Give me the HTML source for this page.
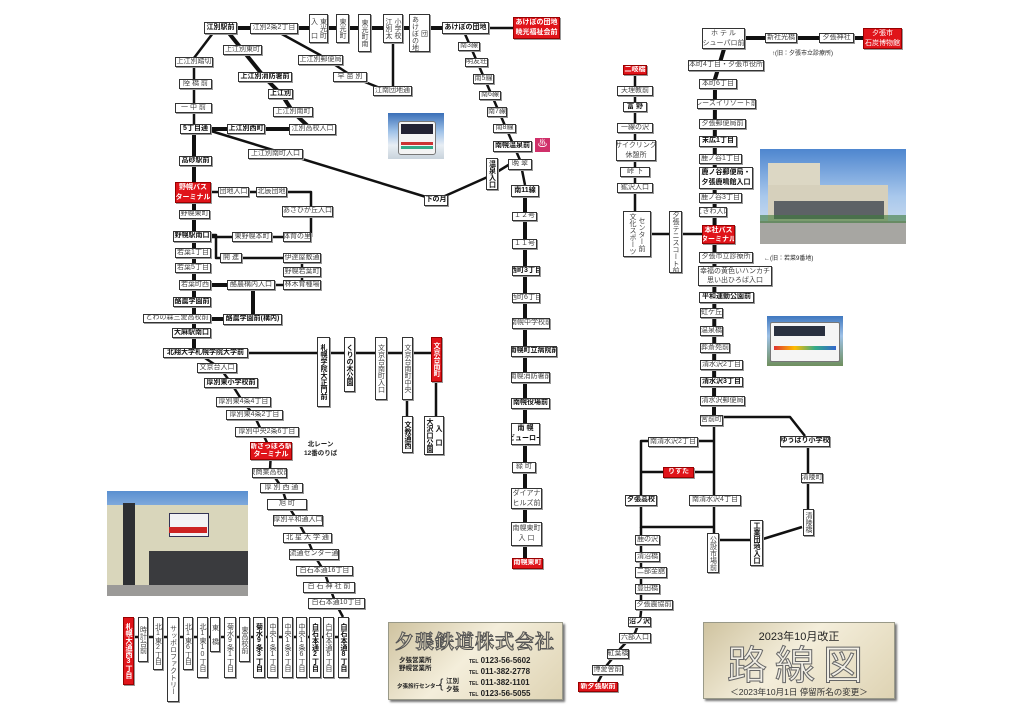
<!DOCTYPE html>
<html><head><meta charset="utf-8"><style>
html,body{margin:0;padding:0;background:#fff}
#c{position:relative;width:1024px;height:723px;overflow:hidden;font-family:"Liberation Sans","Noto Sans CJK JP",sans-serif;color:#222}
.b{position:absolute;box-sizing:border-box;border:1px solid #333;background:#fff;font-size:7px;display:flex;align-items:center;justify-content:center;white-space:nowrap;line-height:8.5px;text-align:center;box-shadow:1px 1px 0 #999;color:#444;overflow:hidden}
.k{font-weight:bold;color:#111}
.r{background:#e0141a;color:#fff;border-color:#900;font-weight:bold}
.v{writing-mode:vertical-rl;text-orientation:upright;line-height:9px;letter-spacing:0}
svg{position:absolute;left:0;top:0}
.t{position:absolute;font-size:7px;white-space:nowrap}
.panel{position:absolute;box-sizing:border-box;background:linear-gradient(135deg,#cfc3a0,#f4eedb 45%,#ded3b3);border:1px solid #998;box-shadow:2px 2px 2px #777}
</style></head><body><div id="c">
<svg width="1024" height="723" fill="none" stroke="#111" stroke-linejoin="round">
<g stroke-width="4">
<line x1="220" y1="28" x2="465" y2="28"/>
<line x1="194" y1="124" x2="194" y2="348"/>
<line x1="211" y1="129" x2="290" y2="129"/>
<polyline points="228,32 265,78 282,95 293,112 312,130"/>
<line x1="525" y1="185" x2="525" y2="558"/>
<line x1="211" y1="285" x2="227" y2="285"/>
<line x1="253" y1="290" x2="253" y2="314"/>
<line x1="211" y1="319" x2="223" y2="319"/>
<line x1="745" y1="38" x2="863" y2="38"/>
<polyline points="724,49 715,79 714,415"/>
</g>
<g stroke-width="2.5">
<line x1="465" y1="28" x2="513" y2="28"/>
<line x1="213" y1="33" x2="194" y2="58"/>
<line x1="194" y1="58" x2="194" y2="124"/>
<polyline points="280,33 320,55 355,78 385,90"/>
<line x1="393" y1="42" x2="393" y2="86"/>
<line x1="211" y1="131" x2="436" y2="200"/>
<polyline points="436,200 492,175 510,164"/>
<polyline points="465,34 520,160 525,185"/>
<polyline points="211,192 311,192 311,237"/>
<line x1="211" y1="237" x2="311" y2="237"/>
<polyline points="211,235 216,235 216,258 302,258 302,285 275,285"/>
<line x1="248" y1="353" x2="431" y2="353"/>
<line x1="407" y1="400" x2="407" y2="416"/>
<line x1="436" y1="382" x2="436" y2="416"/>
<polyline points="205,358 220,368 231,383 243,402 254,415 262,432 271,451 270,470 282,488 287,504 297,520 307,538 314,555 324,571 330,588 336,604 343,617"/>
<line x1="128" y1="637" x2="344" y2="637"/>
<line x1="635" y1="70" x2="635" y2="211"/>
<line x1="651" y1="234" x2="702" y2="234"/>
<polyline points="714,415 714,533"/>
<polyline points="723,417 790,417 805,436"/>
<line x1="808" y1="447" x2="808" y2="509"/>
<polyline points="802,527 763,539"/>
<line x1="719" y1="540" x2="750" y2="540"/>
<polyline points="714,441 641,441 641,527 714,527"/>
<line x1="641" y1="472" x2="714" y2="472"/>
<polyline points="641,527 641,612 640,620 635,633 620,649 607,665 598,682"/>
</g>
</svg>
<!-- left top -->
<div class="b k" style="left:204px;top:22px;width:33px;height:12px">江別駅前</div>
<div class="b" style="left:250px;top:23px;width:48px;height:11px">江別2条2丁目</div>
<div class="b v" style="left:309px;top:14px;width:19px;height:29px">東光町<br>入 口</div>
<div class="b v" style="left:336px;top:14px;width:13px;height:29px">東光町</div>
<div class="b v" style="left:358px;top:14px;width:13px;height:38px">東光町南</div>
<div class="b v" style="left:383px;top:14px;width:20px;height:29px">小学校<br>江別太</div>
<div class="b v" style="left:409px;top:14px;width:21px;height:38px">団<br>あけぼの地</div>
<div class="b k" style="left:442px;top:22px;width:47px;height:12px">あけぼの団地</div>
<div class="b r" style="left:513px;top:17px;width:47px;height:22px;line-height:10px">あけぼの団地<br>暁光福祉会前</div>
<div class="b" style="left:223px;top:45px;width:39px;height:10px">上江別東町</div>
<div class="b" style="left:298px;top:55px;width:45px;height:10px">上江別郵便局</div>
<div class="b" style="left:175px;top:57px;width:38px;height:10px">上江別踏切</div>
<div class="b k" style="left:238px;top:72px;width:54px;height:10px">上江別消防署前</div>
<div class="b" style="left:333px;top:72px;width:34px;height:10px">早 苗 別</div>
<div class="b" style="left:373px;top:86px;width:39px;height:10px">江南団地通</div>
<div class="b" style="left:179px;top:79px;width:33px;height:10px">陸 橋 前</div>
<div class="b k" style="left:268px;top:89px;width:25px;height:10px">上江別</div>
<div class="b" style="left:175px;top:103px;width:37px;height:10px">一 中 前</div>
<div class="b" style="left:273px;top:107px;width:40px;height:10px">上江別南町</div>
<div class="b k" style="left:180px;top:124px;width:31px;height:10px">5丁目通</div>
<div class="b k" style="left:227px;top:124px;width:38px;height:10px">上江別西町</div>
<div class="b" style="left:289px;top:124px;width:47px;height:11px">江別高校入口</div>
<div class="b" style="left:248px;top:149px;width:55px;height:10px">上江別南町入口</div>
<div style="position:absolute;left:388px;top:113px;width:56px;height:46px;background:linear-gradient(#3a6fb8,#9fc2e8 40%,#e8eef4 70%,#c9d3dc)"><div style="position:absolute;left:10px;top:8px;width:36px;height:32px;background:#f4f4f4;border-radius:3px;border:1px solid #777"><div style="height:10px;background:#223;margin:2px"></div><div style="height:3px;background:#c33;margin:8px 2px 0"></div><div style="height:3px;background:#3a8;margin:1px 2px"></div></div></div>
<div class="b k" style="left:179px;top:156px;width:33px;height:10px">高砂駅前</div>
<div class="b r" style="left:175px;top:182px;width:36px;height:21px;line-height:10px">野幌バス<br>ターミナル</div>
<div class="b" style="left:218px;top:187px;width:31px;height:10px">団地入口</div>
<div class="b" style="left:256px;top:187px;width:31px;height:10px">北辰団地</div>
<div class="b" style="left:282px;top:206px;width:51px;height:11px">あさひが丘入口</div>
<div class="b k" style="left:424px;top:195px;width:24px;height:11px">下の月</div>
<div class="b v k" style="left:486px;top:158px;width:12px;height:32px">温泉入口</div>
<div class="b" style="left:508px;top:159px;width:24px;height:11px">晩 翠</div>
<div class="b k" style="left:511px;top:185px;width:28px;height:12px">南11線</div>
<div class="b" style="left:458px;top:42px;width:22px;height:9px">南3線</div>
<div class="b" style="left:465px;top:58px;width:23px;height:9px">明友荘</div>
<div class="b" style="left:473px;top:74px;width:21px;height:10px">南5線</div>
<div class="b" style="left:479px;top:91px;width:22px;height:9px">南6線</div>
<div class="b" style="left:487px;top:107px;width:20px;height:10px">南7線</div>
<div class="b" style="left:493px;top:124px;width:23px;height:9px">南8線</div>
<div class="b k" style="left:493px;top:141px;width:39px;height:11px">南幌温泉前</div>
<div style="position:absolute;left:535px;top:138px;width:15px;height:14px;background:#d0306a;color:#fff;font-size:10px;text-align:center;line-height:14px">♨</div>
<!-- left middle -->
<div class="b" style="left:179px;top:210px;width:31px;height:9px">野幌東町</div>
<div class="b k" style="left:173px;top:231px;width:38px;height:11px">野幌駅南口</div>
<div class="b" style="left:232px;top:232px;width:40px;height:10px">東野幌本町</div>
<div class="b" style="left:283px;top:232px;width:28px;height:10px">体育の里</div>
<div class="b" style="left:175px;top:248px;width:36px;height:10px">若葉1丁目</div>
<div class="b" style="left:220px;top:253px;width:22px;height:10px">開 進</div>
<div class="b" style="left:283px;top:253px;width:38px;height:10px">伊達屋敷通</div>
<div class="b" style="left:175px;top:263px;width:36px;height:10px">若葉5丁目</div>
<div class="b" style="left:283px;top:267px;width:38px;height:10px">野幌若葉町</div>
<div class="b" style="left:179px;top:280px;width:32px;height:10px">若葉町西</div>
<div class="b" style="left:227px;top:280px;width:48px;height:10px">酪農構内入口</div>
<div class="b" style="left:283px;top:280px;width:38px;height:10px">林木育種場</div>
<div class="b k" style="left:173px;top:297px;width:38px;height:10px">酪農学園前</div>
<div class="b" style="left:143px;top:314px;width:68px;height:9px">とわの森三愛高校前</div>
<div class="b k" style="left:223px;top:314px;width:59px;height:11px">酪農学園前(構内)</div>
<div class="b k" style="left:172px;top:328px;width:39px;height:10px">大麻駅南口</div>
<div class="b k" style="left:163px;top:348px;width:85px;height:10px">北翔大学札幌学院大学前</div>
<div class="b v k" style="left:317px;top:337px;width:13px;height:70px">札幌学院大正門前</div>
<div class="b v k" style="left:344px;top:337px;width:11px;height:55px">くりの木公園</div>
<div class="b v" style="left:375px;top:337px;width:12px;height:63px">文京台南町入口</div>
<div class="b v" style="left:402px;top:337px;width:11px;height:63px">文京台南町中央</div>
<div class="b v r" style="left:431px;top:337px;width:11px;height:45px">文京台南町</div>
<div class="b" style="left:197px;top:363px;width:40px;height:10px">文京台入口</div>
<div class="b k" style="left:204px;top:378px;width:54px;height:10px">厚別東小学校前</div>
<div class="b" style="left:216px;top:397px;width:55px;height:10px">厚別東4条4丁目</div>
<div class="b" style="left:226px;top:410px;width:57px;height:10px">厚別東4条2丁目</div>
<div class="b" style="left:235px;top:427px;width:64px;height:10px">厚別中央2条6丁目</div>
<div class="b r" style="left:250px;top:442px;width:42px;height:18px;line-height:8.5px">新さっぽろ駅<br>ターミナル</div>
<div class="t" style="left:304px;top:440px;font-weight:bold;text-align:center;line-height:9px;font-size:6.5px">北レーン<br>12番のりば</div>
<div class="b v k" style="left:402px;top:416px;width:11px;height:37px">文教通西</div>
<div class="b v k" style="left:424px;top:416px;width:20px;height:39px">入 口<br>大沢口公園</div>
<div class="b" style="left:512px;top:212px;width:25px;height:9px">１２号</div>
<div class="b" style="left:512px;top:239px;width:25px;height:10px">１１号</div>
<div class="b k" style="left:512px;top:266px;width:28px;height:10px">西町3丁目</div>
<div class="b" style="left:512px;top:293px;width:28px;height:10px">西町6丁目</div>
<div class="b" style="left:512px;top:318px;width:38px;height:11px">南幌中学校前</div>
<div class="b k" style="left:511px;top:346px;width:46px;height:11px">南幌町立病院前</div>
<div class="b" style="left:511px;top:372px;width:39px;height:11px">南幌消防署前</div>
<div class="b k" style="left:511px;top:398px;width:39px;height:11px">南幌役場前</div>
<div class="b k" style="left:511px;top:423px;width:29px;height:22px;line-height:10px">南 幌<br>ビューロー</div>
<div class="b" style="left:512px;top:462px;width:24px;height:11px">緑 町</div>
<div class="b" style="left:511px;top:488px;width:31px;height:21px;line-height:10px">ダイアナ<br>ヒルズ前</div>
<div class="b" style="left:511px;top:522px;width:31px;height:24px;line-height:10px">南幌東町<br>入 口</div>
<div class="b r" style="left:512px;top:558px;width:31px;height:11px">南幌東町</div>
<!-- left lower -->
<div class="b" style="left:252px;top:468px;width:35px;height:10px">東商業高校前</div>
<div class="b" style="left:260px;top:483px;width:43px;height:10px">厚 別 西 通</div>
<div class="b" style="left:267px;top:499px;width:40px;height:11px">旭 町</div>
<div class="b" style="left:273px;top:515px;width:50px;height:11px">厚別平和通入口</div>
<div class="b" style="left:283px;top:533px;width:49px;height:10px">北 星 大 学 通</div>
<div class="b" style="left:289px;top:549px;width:50px;height:11px">流通センター通</div>
<div class="b" style="left:296px;top:566px;width:57px;height:10px">白石本通16丁目</div>
<div class="b" style="left:303px;top:582px;width:52px;height:11px">白 石 神 社 前</div>
<div class="b" style="left:308px;top:598px;width:57px;height:11px">白石本通10丁目</div>
<div style="position:absolute;left:107px;top:491px;width:141px;height:105px;background:linear-gradient(#5a8fd0,#b9d3ee 35%,#e6ebee 60%)">
<div style="position:absolute;left:0;top:14px;width:141px;height:80px;background:#d9d6bb"></div>
<div style="position:absolute;left:16px;top:12px;width:12px;height:82px;background:#2d2f33"></div>
<div style="position:absolute;left:42px;top:60px;width:99px;height:34px;background:#3a3b3e"></div>
<div style="position:absolute;left:62px;top:22px;width:38px;height:22px;background:#f2f2f5;border:1px solid #335"></div>
<div style="position:absolute;left:62px;top:36px;width:38px;height:6px;background:#c22"></div>
<div style="position:absolute;left:0;top:94px;width:141px;height:11px;background:#9b9a98"></div></div>
<div class="b v r" style="left:123px;top:617px;width:11px;height:68px">札幌大通西3丁目</div>
<div class="b v" style="left:138px;top:617px;width:10px;height:45px">時計台前</div>
<div class="b v" style="left:153px;top:617px;width:10px;height:53px">北1東2丁目</div>
<div class="b v" style="left:167px;top:617px;width:12px;height:85px">サッポロファクトリー</div>
<div class="b v" style="left:183px;top:617px;width:10px;height:53px">北1東6丁目</div>
<div class="b v" style="left:197px;top:617px;width:11px;height:61px">北1東10丁目</div>
<div class="b v" style="left:210px;top:617px;width:10px;height:35px">東 橋</div>
<div class="b v" style="left:224px;top:617px;width:12px;height:61px">菊水9条1丁目</div>
<div class="b v" style="left:239px;top:617px;width:11px;height:45px">東高校前</div>
<div class="b v k" style="left:253px;top:617px;width:12px;height:61px">菊水9条3丁目</div>
<div class="b v" style="left:267px;top:617px;width:11px;height:61px">中央1条1丁目</div>
<div class="b v" style="left:282px;top:617px;width:11px;height:61px">中央1条3丁目</div>
<div class="b v" style="left:296px;top:617px;width:11px;height:61px">中央1条6丁目</div>
<div class="b v k" style="left:309px;top:617px;width:12px;height:61px">白石本通2丁目</div>
<div class="b v" style="left:323px;top:617px;width:11px;height:61px">白石本通5丁目</div>
<div class="b v k" style="left:338px;top:617px;width:11px;height:61px">白石本通8丁目</div>
<div class="panel" style="left:388px;top:622px;width:175px;height:78px">
<div style="position:absolute;left:6px;top:4px;font-size:19px;font-weight:bold;color:#d8d0b8;-webkit-text-stroke:1px #555;letter-spacing:1px;font-family:'Noto Serif CJK SC',serif">夕張鉄道株式会社</div>
<div style="position:absolute;left:10px;top:34px;font-size:6.5px;font-weight:bold;line-height:8px">夕張営業所<br>野幌営業所</div>
<div style="position:absolute;left:8px;top:59px;font-size:5.5px;font-weight:bold">夕張旅行センター</div>
<div style="position:absolute;left:50px;top:53px;font-size:13px;line-height:16px;color:#333">{</div>
<div style="position:absolute;left:57px;top:55px;font-size:6.5px;font-weight:bold;line-height:8px">江別<br>夕張</div>
<div style="position:absolute;left:80px;top:33px;font-size:8px;font-weight:bold;line-height:9px"><span style="font-size:5px">TEL</span> 0123-56-5602<br><span style="font-size:5px">TEL</span> 011-382-2778</div>
<div style="position:absolute;left:80px;top:55px;font-size:8px;font-weight:bold;line-height:9px"><span style="font-size:5px">TEL</span> 011-382-1101<br><span style="font-size:5px">TEL</span> 0123-56-5055</div>
</div>
<!-- right -->
<div class="b" style="left:702px;top:28px;width:43px;height:21px;line-height:10px">ホ テ ル<br>シューパロ前</div>
<div class="b" style="left:765px;top:33px;width:32px;height:10px">新社光橋</div>
<div class="b" style="left:819px;top:33px;width:35px;height:10px">夕張神社</div>
<div class="b r" style="left:863px;top:28px;width:39px;height:21px;line-height:10px;font-weight:normal">夕張市<br>石炭博物館</div>
<div class="t" style="left:772px;top:48px;font-size:6px">↑(旧：夕張市立診療所)</div>
<div class="b" style="left:688px;top:60px;width:76px;height:11px">本町4丁目・夕張市役所</div>
<div class="b" style="left:699px;top:79px;width:38px;height:10px">本町6丁目</div>
<div class="b" style="left:697px;top:99px;width:59px;height:10px">レースイリゾート前</div>
<div class="b" style="left:699px;top:119px;width:47px;height:10px">夕張郵便局前</div>
<div class="b k" style="left:699px;top:136px;width:38px;height:11px">末広1丁目</div>
<div class="b" style="left:699px;top:154px;width:43px;height:10px">鹿ノ谷1丁目</div>
<div class="b k" style="left:699px;top:167px;width:54px;height:22px;line-height:10px">鹿ノ谷郵便局・<br>夕張鹿鳴館入口</div>
<div class="b" style="left:699px;top:193px;width:43px;height:10px">鹿ノ谷3丁目</div>
<div class="b" style="left:699px;top:207px;width:28px;height:10px">ときわ入口</div>
<div class="b r" style="left:702px;top:225px;width:33px;height:19px;line-height:9px">本社バス<br>ターミナル</div>
<div class="b" style="left:699px;top:252px;width:54px;height:11px">夕張市立診療所</div>
<div class="t" style="left:764px;top:253px;font-size:6px">←(旧：若菜9番地)</div>
<div class="b" style="left:698px;top:266px;width:74px;height:20px;line-height:9px">幸福の黄色いハンカチ<br>思い出ひろば入口</div>
<div class="b k" style="left:699px;top:292px;width:55px;height:11px">平和運動公園前</div>
<div style="position:absolute;left:760px;top:149px;width:146px;height:95px;background:linear-gradient(#4e86cf,#a9c8ec 50%,#dbe6f0)">
<div style="position:absolute;left:8px;top:14px;width:52px;height:30px;background:#dcd7c4"></div>
<div style="position:absolute;left:8px;top:36px;width:120px;height:36px;background:#d6d0bc"></div>
<div style="position:absolute;left:14px;top:52px;width:110px;height:18px;background:#5d6266"></div>
<div style="position:absolute;left:0;top:72px;width:146px;height:23px;background:#a7a6a2"></div>
<div style="position:absolute;left:0;top:66px;width:146px;height:8px;background:#3d7a3a;opacity:.6"></div></div>
<div class="b r" style="left:623px;top:65px;width:24px;height:10px">二岐橋</div>
<div class="b" style="left:617px;top:86px;width:36px;height:10px">天理教前</div>
<div class="b k" style="left:623px;top:102px;width:24px;height:10px">富 野</div>
<div class="b" style="left:617px;top:123px;width:36px;height:10px">一線の沢</div>
<div class="b" style="left:616px;top:140px;width:40px;height:21px;line-height:10px">サイクリング<br>休憩所</div>
<div class="b" style="left:620px;top:167px;width:30px;height:10px">峠 下</div>
<div class="b" style="left:617px;top:183px;width:36px;height:10px">鉱沢入口</div>
<div class="b v" style="left:623px;top:211px;width:28px;height:46px">センター前<br>文化スポーツ</div>
<div class="b v" style="left:669px;top:211px;width:13px;height:62px">夕張テニスコート前</div>
<div class="b" style="left:700px;top:308px;width:23px;height:10px">虹ケ丘</div>
<div class="b" style="left:700px;top:326px;width:23px;height:10px">温泉橋</div>
<div class="b" style="left:700px;top:343px;width:30px;height:10px">葬斎苑前</div>
<div class="b" style="left:700px;top:360px;width:43px;height:10px">清水沢2丁目</div>
<div class="b k" style="left:700px;top:377px;width:43px;height:10px">清水沢3丁目</div>
<div class="b" style="left:700px;top:396px;width:45px;height:10px">清水沢郵便局</div>
<div class="b" style="left:700px;top:415px;width:23px;height:11px">宮前町</div>
<div style="position:absolute;left:767px;top:316px;width:76px;height:50px;background:linear-gradient(#3f78c0,#9ec1e6 40%,#6f8f5e)"><div style="position:absolute;left:3px;top:6px;width:68px;height:38px;background:#f5f5f5;border:1px solid #777;border-radius:2px"><div style="height:10px;background:#2a3140;margin:3px 14px 0 3px"></div><div style="height:4px;background:linear-gradient(90deg,#d33,#fb0,#3a8,#36c);margin:10px 3px 0"></div></div></div>
<div class="b" style="left:648px;top:437px;width:50px;height:10px">南清水沢2丁目</div>
<div class="b k" style="left:780px;top:436px;width:50px;height:11px">ゆうばり小学校</div>
<div class="b r" style="left:663px;top:467px;width:31px;height:11px">りすた</div>
<div class="b" style="left:801px;top:473px;width:22px;height:10px">清陵町</div>
<div class="b k" style="left:625px;top:495px;width:32px;height:11px">夕張高校</div>
<div class="b" style="left:689px;top:495px;width:52px;height:11px">南清水沢4丁目</div>
<div class="b v" style="left:803px;top:509px;width:11px;height:27px">清陵橋</div>
<div class="b v k" style="left:750px;top:520px;width:13px;height:46px">工業団地入口</div>
<div class="b v" style="left:707px;top:533px;width:12px;height:40px">公設市場前</div>
<div class="b" style="left:635px;top:535px;width:25px;height:10px">鹿の沢</div>
<div class="b" style="left:635px;top:552px;width:25px;height:10px">清沼橋</div>
<div class="b" style="left:635px;top:567px;width:32px;height:11px">二部金舘</div>
<div class="b" style="left:635px;top:584px;width:25px;height:10px">豊田橋</div>
<div class="b" style="left:635px;top:600px;width:38px;height:10px">夕張農協前</div>
<div class="b k" style="left:628px;top:617px;width:23px;height:10px">沼ノ沢</div>
<div class="b" style="left:619px;top:633px;width:32px;height:10px">六部入口</div>
<div class="b" style="left:607px;top:649px;width:22px;height:10px">紅葉橋</div>
<div class="b" style="left:592px;top:665px;width:31px;height:10px">博愛舎前</div>
<div class="b r" style="left:578px;top:682px;width:40px;height:10px">新夕張駅前</div>
<div class="panel" style="left:703px;top:622px;width:192px;height:77px;text-align:center">
<div style="position:absolute;left:0;right:0;top:5px;font-size:11px;color:#222">2023年10月改正</div>
<div style="position:absolute;left:0;right:0;top:17px;font-size:40px;line-height:44px;color:#f2efe6;-webkit-text-stroke:1px #666;letter-spacing:8px;font-family:'Noto Sans CJK JP',sans-serif">路線図</div>
<div style="position:absolute;left:0;right:0;top:63px;font-size:8.5px;color:#333">＜2023年10月1日 停留所名の変更＞</div>
</div>
</div></body></html>
